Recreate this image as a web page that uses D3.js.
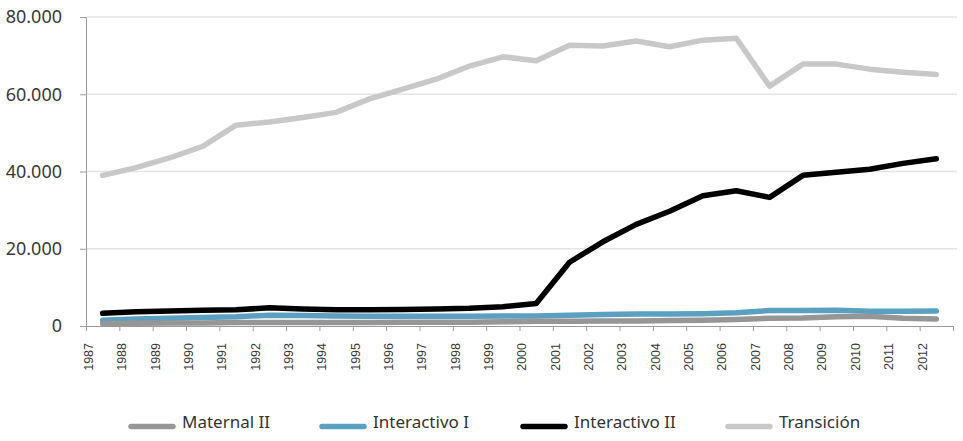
<!DOCTYPE html>
<html>
<head>
<meta charset="utf-8">
<script src="https://cdn.jsdelivr.net/npm/d3@7"></script>
<style>
  body { margin: 0; background: #fff; }
  svg { font-family: "Noto Sans", sans-serif; }
</style>
</head>
<body>
<svg id="chart" width="963" height="441"></svg>
<script>
// tick labels under the x axis (one per category band)
var years = [1987,1988,1989,1990,1991,1992,1993,1994,1995,1996,1997,1998,1999,
             2000,2001,2002,2003,2004,2005,2006,2007,2008,2009,2010,2011,2012];

var seriesNames = ["Maternal II", "Interactivo I", "Interactivo II", "Transición"];

var maternal2 = [600,700,800,800,900,900,900,900,900,1000,1000,1000,1100,
                 1200,1200,1300,1300,1400,1500,1700,2000,2100,2400,2500,2000,1800];
var interactivo1 = [1500,1800,2000,2200,2400,2800,2700,2600,2500,2500,2500,2500,2600,
                    2600,2800,3000,3100,3100,3200,3400,4000,4000,4100,3800,3800,3900];
var interactivo2 = [3300,3700,3900,4100,4200,4700,4400,4200,4200,4300,4400,4600,5000,
                    5800,16500,21800,26300,29700,33700,35000,33300,39000,39800,40600,42100,43300];
var transicion = [39000,41000,43500,46500,52000,52800,54000,55300,58800,61300,63900,67300,69700,
                  68700,72700,72500,73800,72300,74000,74500,62100,67800,67800,66500,65700,65100];

var yTicks = [0, 20000, 40000, 60000, 80000];

var colors = ["#969696", "#5b9fc1", "#000000", "#c8c8c8"];

var svg = d3.select("#chart");
// plot area (window.top is reserved, so use plot* names)
var plotLeft = 86, plotRight = 953, plotTop = 17, plotBottom = 326;

var n = years.length;
// band layout: ticks sit on band edges, points in band centres
var x = d3.scaleLinear().domain([0, n]).range([plotLeft, plotRight]);
var y = d3.scaleLinear().domain([0, 80000]).range([plotBottom, plotTop]);

var fmt = function(v) { return d3.format(",")(v).replace(/,/g, "."); };

// gridlines
svg.append("g")
  .selectAll("line")
  .data(yTicks.filter(function(d) { return d > 0; }))
  .enter().append("line")
    .attr("x1", plotLeft).attr("x2", 957)
    .attr("y1", function(d) { return y(d); })
    .attr("y2", function(d) { return y(d); })
    .attr("stroke", "#e4e4e4")
    .attr("stroke-width", 1.3);

// y axis
var yAxis = svg.append("g")
  .attr("transform", "translate(" + plotLeft + ",0)")
  .call(d3.axisLeft(y).tickValues(yTicks).tickFormat(fmt).tickSize(6).tickPadding(18));
yAxis.select(".domain").attr("stroke", "#9a9a9a");
yAxis.selectAll(".tick line").attr("stroke", "#9a9a9a");
yAxis.selectAll("text")
  .attr("font-size", 18)
  .attr("fill", "#3a3a3a")
  .attr("font-family", "Noto Sans");

// x axis
var xAxis = svg.append("g")
  .attr("transform", "translate(0," + plotBottom + ")")
  .call(d3.axisBottom(x).tickValues(d3.range(0, n + 1)).tickSize(5)
    .tickFormat(function(i) { return i < n ? years[i] : ""; }));
xAxis.select(".domain").attr("stroke", "#9a9a9a");
xAxis.selectAll(".tick line").attr("stroke", "#9a9a9a");
xAxis.selectAll("text")
  .attr("font-size", 12.5)
  .attr("fill", "#3a3a3a")
  .attr("transform", "rotate(-90)")
  .attr("text-anchor", "end")
  .attr("x", -17)
  .attr("y", 2)
  .attr("dy", "0.35em");

var series = [maternal2, interactivo1, interactivo2, transicion];

var line = d3.line()
  .x(function(d, i) { return x(i + 0.5); })
  .y(function(d) { return y(d); });

// draw back-to-front so the small series stay on top of each other like the original
var order = [3, 2, 1, 0];
order.forEach(function(k) {
  svg.append("path")
    .datum(series[k])
    .attr("d", line)
    .attr("fill", "none")
    .attr("stroke", colors[k])
    .attr("stroke-width", 5.5)
    .attr("stroke-linejoin", "round")
    .attr("stroke-linecap", "round");
});

// legend
var legendX = [131, 322, 523, 728];
var legend = svg.append("g");
seriesNames.forEach(function(name, k) {
  legend.append("line")
    .attr("x1", legendX[k]).attr("x2", legendX[k] + 42)
    .attr("y1", 426.5).attr("y2", 426.5)
    .attr("stroke", colors[k])
    .attr("stroke-width", 5.5)
    .attr("stroke-linecap", "round");
  legend.append("text")
    .attr("x", legendX[k] + 51)
    .attr("y", 422)
    .attr("dy", "0.35em")
    .attr("font-size", 17)
    .attr("fill", "#333")
    .text(name);
});
</script>
</body>
</html>
